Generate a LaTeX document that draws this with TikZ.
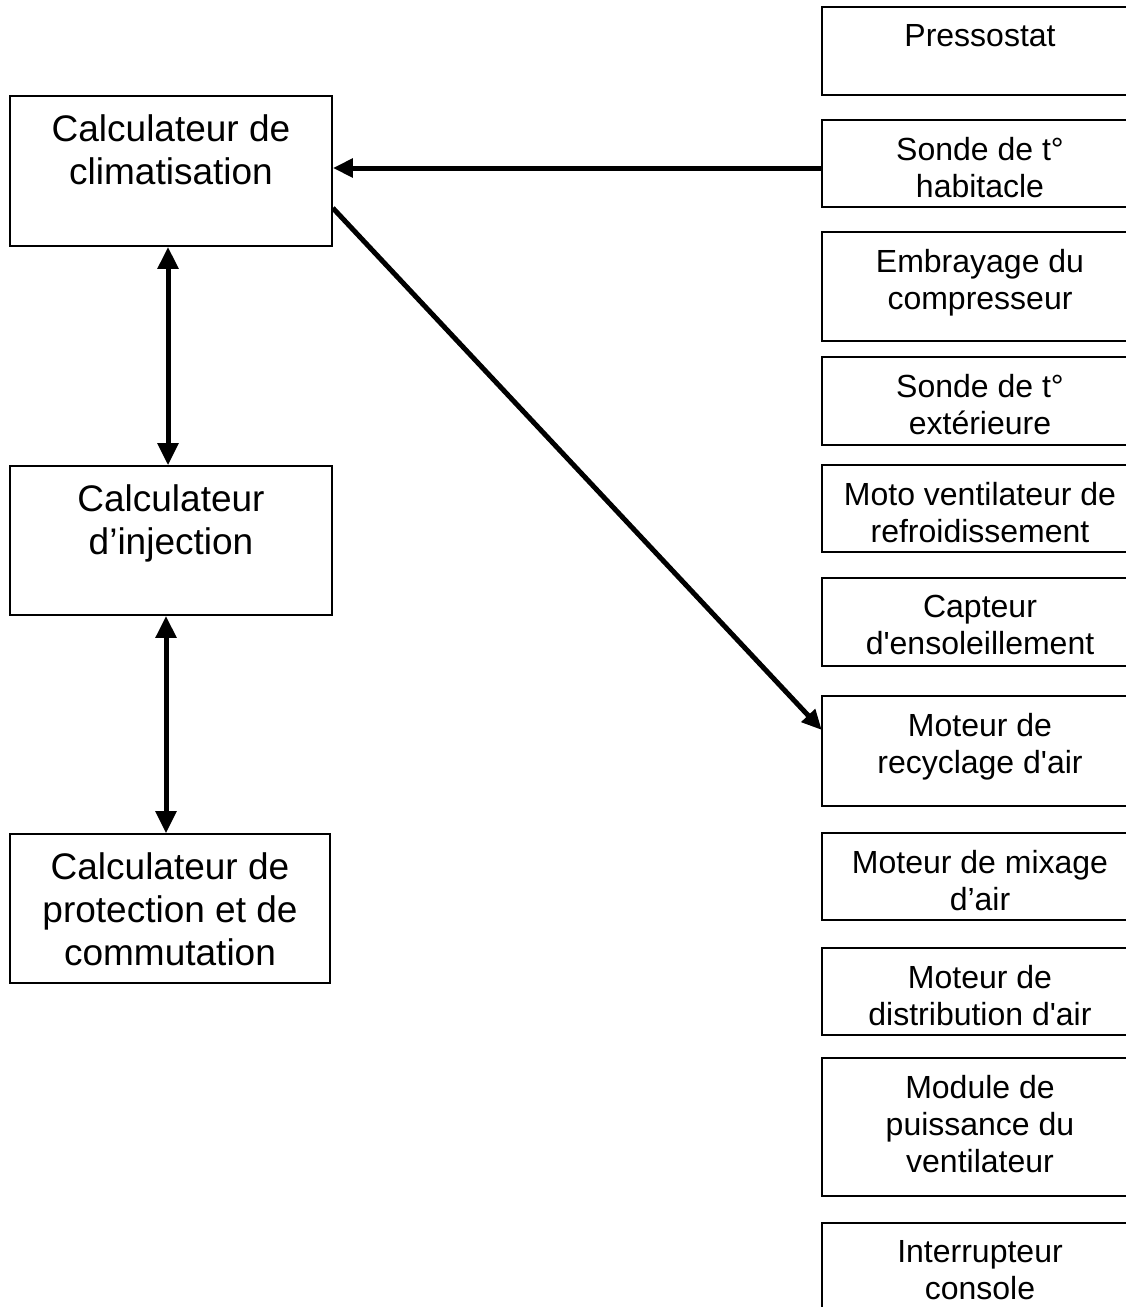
\documentclass[tikz,border=0pt]{standalone}
\usepackage{fontspec}
\newfontfamily\arial{Liberation Sans}
\usetikzlibrary{arrows.meta}
\begin{document}
\begin{tikzpicture}[x=1pt,y=-1pt,
  lbox/.style={draw,line width=1.6pt,inner sep=0pt,minimum width=322pt},
  rbox/.style={inner sep=0pt,minimum width=304pt},
  ltext/.style={font=\arial\fontsize{37}{43}\selectfont,align=center,inner sep=0pt,anchor=north,yshift=-19pt},
  rtext/.style={font=\arial\fontsize{32}{37}\selectfont,align=center,inner sep=0pt,anchor=north,yshift=-17pt,xshift=6pt},
  side/.style={line width=1.6pt},
  arr/.style={line width=5pt,-{Triangle[length=20pt,width=18pt]}},
  darr/.style={line width=5pt,{Triangle[length=22pt,width=20pt]}-{Triangle[length=22pt,width=20pt]}}]
\useasboundingbox (0,0) rectangle (1126,1307);
\fill[white] (0,0) rectangle (1126,1307);

% left boxes
\node[lbox,minimum height=150pt,label={[ltext]north:Calculateur de\\climatisation}] (clim) at (171,171) {};
\node[lbox,minimum height=149pt,label={[ltext]north:Calculateur\\d’injection}] (inj) at (171,540.5) {};
\node[lbox,minimum width=320pt,minimum height=149pt,label={[ltext]north:Calculateur de\\protection et de\\commutation}] (prot) at (170,908.5) {};

% right boxes
\node[rbox,minimum height=88pt,label={[rtext]north:Pressostat}] (pres) at (974,51) {};
\node[rbox,minimum height=87pt,label={[rtext]north:Sonde de t°\\habitacle}] (hab) at (974,163.5) {};
\node[rbox,minimum height=109pt,label={[rtext]north:Embrayage du\\compresseur}] (emb) at (974,286.5) {};
\node[rbox,minimum height=88pt,label={[rtext]north:Sonde de t°\\extérieure}] (ext) at (974,401) {};
\node[rbox,minimum height=87pt,label={[rtext]north:Moto ventilateur de\\refroidissement}] (moto) at (974,508.5) {};
\node[rbox,minimum height=88pt,label={[rtext]north:Capteur\\d'ensoleillement}] (capt) at (974,622) {};
\node[rbox,minimum height=110pt,label={[rtext]north:Moteur de\\recyclage d'air}] (recy) at (974,751) {};
\node[rbox,minimum height=87pt,label={[rtext]north:Moteur de mixage\\d’air}] (mix) at (974,876.5) {};
\node[rbox,minimum height=87pt,label={[rtext]north:Moteur de\\distribution d'air}] (dist) at (974,991.5) {};
\node[rbox,minimum height=138pt,label={[rtext]north:Module de\\puissance du\\ventilateur}] (mod) at (974,1127) {};
\node[rbox,minimum height=84pt,label={[rtext]north:Interrupteur\\console}] (inter) at (974,1265) {};

\foreach \n in {pres,hab,emb,ext,moto,capt,recy,mix,dist,mod}
  \draw[side] (\n.north east) -- (\n.north west) -- (\n.south west) -- (\n.south east);
\draw[side] (inter.north east) -- (inter.north west) -- (inter.south west);

% connectors
\draw[arr] ([yshift=-4.5pt]hab.west) -- ([yshift=-4.5pt]hab.west -| clim.east);
\draw[arr] ([yshift=-37pt]clim.east) -- ([yshift=21pt]recy.west);
\draw[darr] ([xshift=-3pt]clim.south) -- ([xshift=-3pt]inj.north);
\draw[darr] ([xshift=-5pt]inj.south) -- ([xshift=-4pt]prot.north);
\end{tikzpicture}
\end{document}
